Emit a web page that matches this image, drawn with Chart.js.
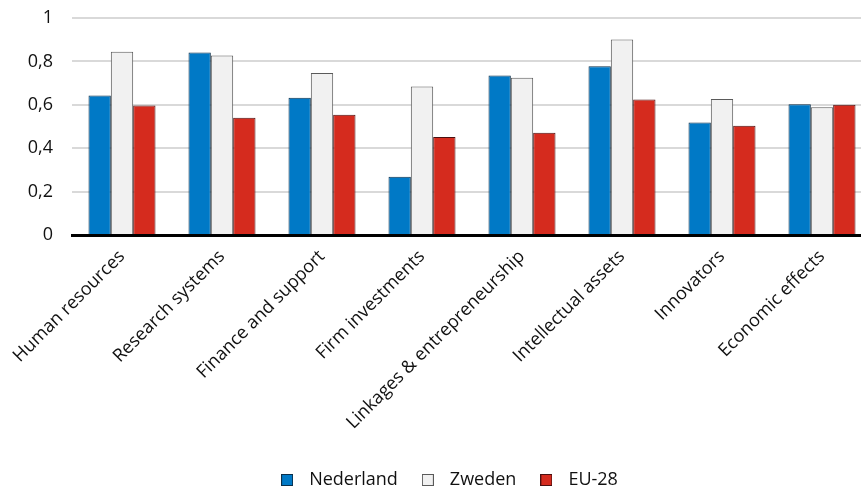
<!DOCTYPE html>
<html>
<head>
<meta charset="utf-8">
<script src="https://cdn.jsdelivr.net/npm/chart.js@4"></script>
<style>
  html, body { margin: 0; padding: 0; background: #fff; overflow: hidden; }
  #wrap { width: 872px; height: 486px; }
</style>
</head>
<body>
<div id="wrap"><canvas id="innovatieChart" width="872" height="486"></canvas></div>
<script>
const categories = ['Human resources', 'Research systems', 'Finance and support', 'Firm investments',
    'Linkages & entrepreneurship', 'Intellectual assets', 'Innovators', 'Economic effects'];
const nederland = [0.643, 0.841, 0.633, 0.269, 0.735, 0.778, 0.519, 0.603];
const zweden = [0.844, 0.827, 0.747, 0.684, 0.725, 0.901, 0.627, 0.589];
const eu28 = [0.597, 0.540, 0.554, 0.452, 0.471, 0.624, 0.503, 0.600];
const yTicks = [0, 0.2, 0.4, 0.6, 0.8, 1];

const fontFamily = "'Open Sans', 'Noto Sans', sans-serif";

// klein vierkantje voor de legenda
function legendSquare(fill, stroke) {
    const c = document.createElement('canvas');
    c.width = 12;
    c.height = 12;
    const g = c.getContext('2d');
    g.fillStyle = stroke;
    g.fillRect(0, 0, 12, 12);
    g.fillStyle = fill;
    g.fillRect(1, 1, 10, 10);
    return c;
}

// legenda iets naar rechts, zoals in het origineel
const legendShift = {
    id: 'legendShift',
    afterLayout(chart) {
        chart.legend.left += 10;
        chart.legend.right += 10;
    }
};

const ctx = document.getElementById('innovatieChart').getContext('2d');

const chart = new Chart(ctx, {
    type: 'bar',
    data: {
        labels: categories,
        datasets: [{
            label: 'Nederland',
            data: nederland,
            backgroundColor: '#0079c6',
            borderColor: '#0b2f4a',
            borderWidth: 1
        }, {
            label: 'Zweden',
            data: zweden,
            backgroundColor: '#f1f1f1',
            borderColor: '#5a5a5a',
            borderWidth: 1
        }, {
            label: 'EU-28',
            data: eu28,
            backgroundColor: '#d52b1e',
            borderColor: '#4a1010',
            borderWidth: 1
        }]
    },
    options: {
        responsive: false,
        animation: false,
        layout: { padding: { top: 18, left: 0, right: 0, bottom: -13 } },
        datasets: {
            bar: { categoryPercentage: 0.67, barPercentage: 1 }
        },
        scales: {
            x: {
                grid: { display: false },
                border: { color: '#000', width: 3 },
                afterFit: (scale) => { scale.height = 219; },
                ticks: {
                    color: '#111',
                    minRotation: 45,
                    maxRotation: 45,
                    font: { family: fontFamily, size: 18 }
                }
            },
            y: {
                min: 0,
                max: 1,
                afterBuildTicks: (axis) => { axis.ticks = yTicks.map(v => ({ value: v })); },
                afterFit: (scale) => { scale.width = 72; },
                grid: { color: '#d9d9d9', lineWidth: 2, drawTicks: true, tickLength: 19, tickColor: 'rgba(0,0,0,0)' },
                border: { display: false },
                ticks: {
                    color: '#111',
                    padding: 0,
                    font: { family: fontFamily, size: 18 },
                    callback: (v) => String(v).replace('.', ',')
                }
            }
        },
        plugins: {
            legend: {
                position: 'bottom',
                labels: {
                    usePointStyle: true,
                    pointStyleWidth: 26,
                    padding: 17,
                    color: '#111',
                    font: { family: fontFamily, size: 18 },
                    generateLabels: (ch) => {
                        const items = Chart.defaults.plugins.legend.labels.generateLabels(ch);
                        items.forEach((item, i) => {
                            const ds = ch.data.datasets[i];
                            item.pointStyle = legendSquare(ds.backgroundColor, ds.borderColor);
                        });
                        return items;
                    }
                }
            },
            tooltip: { enabled: false }
        }
    },
    plugins: [legendShift]
});
</script>
</body>
</html>
